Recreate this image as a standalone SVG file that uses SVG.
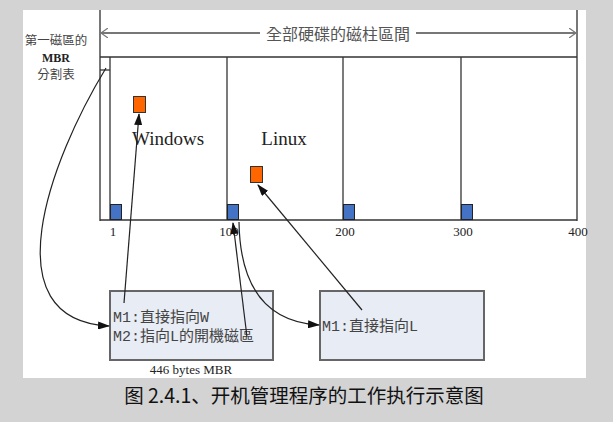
<svg xmlns="http://www.w3.org/2000/svg" width="613" height="422" viewBox="0 0 613 422">
<style>
.frame{stroke:#333;stroke-width:1.3;fill:none}
.gray{stroke:#777;stroke-width:2;fill:none}
.blue{fill:#4472c4;stroke:#222;stroke-width:1}
.orange{fill:#ff6600;stroke:#333;stroke-width:1}
.box{fill:#e8ecf5;stroke:#666;stroke-width:2}
.serif{font-family:"Liberation Serif","Noto Sans CJK TC",serif;fill:#222}
.cjk{font-family:"Noto Sans CJK TC","Noto Sans CJK SC",sans-serif}
.mono{font-family:"Liberation Mono","Noto Sans CJK TC",monospace;font-size:15px;fill:#444}
.conn{stroke:#222;stroke-width:1.2;fill:none;marker-end:url(#ah)}
</style>
<defs>
<marker id="ah" markerWidth="12" markerHeight="8" refX="11" refY="4" orient="auto" markerUnits="userSpaceOnUse">
<path d="M0,0 L12,4 L0,8 Z" fill="#111"/>
</marker>
<marker id="open" markerWidth="8" markerHeight="10" refX="7" refY="5" orient="auto" markerUnits="userSpaceOnUse">
<path d="M0,0 L7,5 L0,10" fill="none" stroke="#777" stroke-width="1.2"/>
</marker>
</defs>
<rect x="0" y="0" width="613" height="422" fill="#d3d3d3"/>
<rect x="23" y="10" width="563" height="368" fill="#ffffff"/>

<g id="disk">
<line class="gray" x1="100" y1="10" x2="100" y2="221"/>
<line class="gray" x1="577" y1="10" x2="577" y2="221"/>
<line class="frame" x1="100" y1="57" x2="577" y2="57"/>
<line class="frame" x1="100" y1="220" x2="577" y2="220"/>
<line class="frame" x1="110" y1="57" x2="110" y2="220"/>
<line class="frame" x1="227" y1="57" x2="227" y2="220"/>
<line class="frame" x1="343" y1="57" x2="343" y2="220"/>
<line class="frame" x1="461" y1="57" x2="461" y2="220"/>
<line class="frame" x1="100" y1="70" x2="110" y2="70"/>
<rect class="blue" x="110.5" y="204.5" width="11" height="15"/>
<rect class="blue" x="227.5" y="204.5" width="11" height="15"/>
<rect class="blue" x="343.5" y="204.5" width="11" height="15"/>
<rect class="blue" x="461.5" y="204.5" width="11" height="15"/>
<text class="serif" x="113" y="236" font-size="13" text-anchor="middle">1</text>
<text class="serif" x="229" y="236" font-size="13" text-anchor="middle">100</text>
<text class="serif" x="345" y="236" font-size="13" text-anchor="middle">200</text>
<text class="serif" x="463" y="236" font-size="13" text-anchor="middle">300</text>
<text class="serif" x="578" y="236" font-size="13" text-anchor="middle">400</text>
</g>

<g id="range">
<line x1="260" y1="33" x2="101" y2="33" stroke="#777" stroke-width="2" marker-end="url(#open)"/>
<line x1="416" y1="33" x2="576" y2="33" stroke="#777" stroke-width="2" marker-end="url(#open)"/>
<text class="cjk" x="338" y="40" font-size="16" fill="#555" text-anchor="middle">全部硬碟的磁柱區間</text>
</g>

<g id="mbr-label">
<text class="cjk" x="56" y="45" font-size="12.5" fill="#444" text-anchor="middle">第一磁區的</text>
<text class="serif" x="56" y="61.5" font-size="12" font-weight="bold" text-anchor="middle">MBR</text>
<text class="cjk" x="56" y="79" font-size="12.5" fill="#444" text-anchor="middle">分割表</text>
</g>

<g id="windows">
<rect class="orange" x="133.5" y="96.5" width="12" height="16"/>
<text class="serif" x="168" y="145" font-size="19" text-anchor="middle">Windows</text>
</g>

<g id="linux">
<rect class="orange" x="250.5" y="166.5" width="12" height="16"/>
<text class="serif" x="284" y="145" font-size="19" text-anchor="middle">Linux</text>
</g>

<g id="mbr-box">
<rect class="box" x="110" y="291" width="163" height="69"/>
<text class="mono" x="113" y="322">M1:直接指向W</text>
<text class="mono" x="113" y="341">M2:指向L的開機磁區</text>
<text class="serif" x="191" y="374" font-size="13" text-anchor="middle">446 bytes MBR</text>
</g>

<g id="linux-box">
<rect class="box" x="320" y="291" width="164" height="69"/>
<text class="mono" x="322" y="331">M1:直接指向L</text>
</g>

<g id="connectors">
<path class="conn" d="M106,68 C50,160 -10,320 109,326"/>
<path class="conn" d="M124,303 L139,114"/>
<path class="conn" d="M247,337 L233,223"/>
<path class="conn" d="M239,222 C240,290 268,322 319,325"/>
<path class="conn" d="M362,310 L258,185"/>
</g>

<text x="304" y="403" font-family="Noto Sans CJK SC, sans-serif" font-size="19.5" fill="#111" text-anchor="middle">图 2.4.1、开机管理程序的工作执行示意图</text>
</svg>
